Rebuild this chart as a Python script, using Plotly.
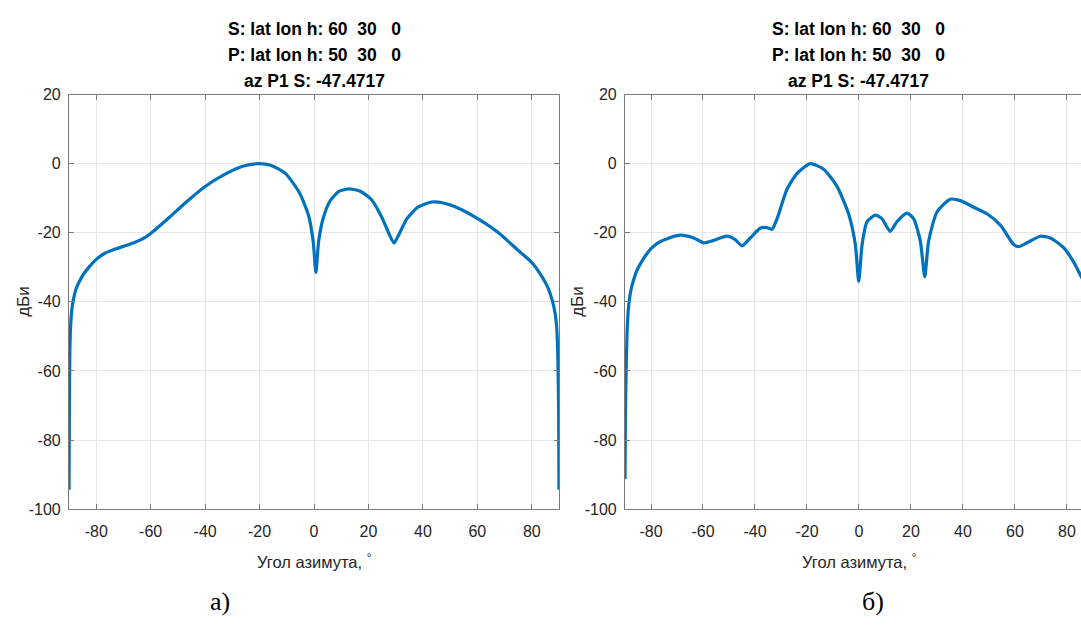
import plotly.graph_objects as go

# ---- data ----
az_a = [-90.0, -89.85, -89.7, -89.4, -89.0, -88.3, -87.3, -86.0, -84.5, -82.5, -80.0, -77.0,
        -73.0, -69.0, -65.0, -62.0, -60.0, -53.8,
        -47.2, -40.0, -32.8, -26.2, -20.3, -15.7, -10.5, -5.3, -2.0, -0.3, 0.7, 1.7, 3.3,
        5.9, 9.1, 13.0, 17.0, 21.0, 24.9, 27.5, 29.4, 30.8, 34.1, 38.0, 43.2, 47.2, 53.7,
        60.3, 68.1, 74.7, 80.0, 83.9, 86.0, 87.5, 88.5, 89.2, 89.6, 89.85, 90.0]
gain_a = [-94.4, -70.0, -55.0, -47.0, -42.5, -39.0, -36.0, -33.8, -31.8, -29.8, -27.7, -26.0,
          -24.7, -23.7, -22.5, -21.3, -20.2, -16.0,
          -11.3, -6.6, -3.1, -0.75, 0.0, -0.5, -2.8, -8.5, -15.0, -22.5, -31.5, -22.5, -16.0,
          -10.8, -8.0, -7.3, -8.0, -10.3, -15.5, -20.2, -23.0, -21.1, -16.0, -12.7, -11.1, -11.3, -13.1,
          -16.0, -20.2, -24.9, -28.6, -32.9, -36.0, -39.5, -43.0, -48.0, -57.0, -70.0, -94.4]

az_b = [-90.0, -89.8, -89.6, -89.2, -88.6, -87.7, -86.7, -85.5, -84.1, -82.0, -80.0, -77.0,
        -73.0, -68.7, -63.6, -59.7, -55.9,
        -50.8, -47.6, -45.0, -41.8, -38.0, -35.4, -33.5, -31.5, -27.7, -23.8, -18.7, -13.6,
        -8.5, -4.0, -1.4, -0.1, 1.2, 3.1, 6.3, 8.8, 12.0, 14.6, 18.5, 21.0, 23.6, 25.3, 26.8,
        30.0, 35.1, 39.0, 44.1, 49.2, 54.4, 59.5, 61.4, 64.6, 69.7, 73.6, 78.7, 82.6, 85.5, 86.5]
gain_b = [-91.3, -70.0, -61.8, -48.7, -41.2, -36.5, -33.7, -31.0, -29.0, -26.5, -24.6, -22.8,
          -21.5, -20.7, -21.5, -22.9, -22.2,
          -21.0, -22.0, -23.8, -21.5, -18.7, -18.5, -19.0, -15.9, -7.4, -2.8, 0.0, -1.6,
          -6.5, -14.5, -23.4, -34.1, -23.4, -16.8, -14.9, -15.9, -19.6, -16.8, -14.3, -15.9, -22.4, -32.7, -22.4,
          -14.0, -10.3, -10.7, -12.6, -14.5, -17.8, -23.4, -24.0, -22.9, -21.0, -21.5, -24.3, -28.5, -32.7, -34.0]

x_ticks = [-80, -60, -40, -20, 0, 20, 40, 60, 80]
y_ticks = [-100, -80, -60, -40, -20, 0, 20]
title_lines = ["S: lat lon h: 60\u00a0\u00a030\u00a0\u00a0\u00a00",
               "P: lat lon h: 50\u00a0\u00a030\u00a0\u00a0\u00a00",
               "az P1 S: -47.4717"]
x_label = "Угол азимута, <sup>°</sup>"
y_label = "дБи"
panel_labels = ["а)", "б)"]

W, H = 1081, 630
BLUE = "#0072BD"
FRAME = "#7a7a7a"
GRID = "#e8e8e8"
TXT = "#262626"
FONT = "Liberation Sans, Arial, sans-serif"

fig = go.Figure()
fig.add_trace(go.Scatter(x=az_a, y=gain_a, mode="lines", line=dict(color=BLUE, width=3.2, shape="spline", smoothing=0.6),
                         xaxis="x", yaxis="y", showlegend=False))
fig.add_trace(go.Scatter(x=az_b, y=gain_b, mode="lines", line=dict(color=BLUE, width=3.2, shape="spline", smoothing=0.6),
                         xaxis="x2", yaxis="y2", showlegend=False))

ydom = [1 - 515 / H, 1 - 89 / H]
xdom1 = [69 / W, 559 / W]
xdom2 = [625 / W, 1.0]

def xaxis(domain, rng, anchor):
    return dict(domain=domain, range=rng, anchor=anchor, tickvals=x_ticks,
                ticktext=[str(v) for v in x_ticks], ticks="inside", ticklen=5, tickcolor=FRAME,
                showline=True, linecolor=FRAME, linewidth=1.2, mirror="ticks",
                showgrid=True, gridcolor=GRID, gridwidth=1.3, zeroline=False,
                tickfont=dict(family=FONT, size=16, color=TXT), ticklabelstandoff=8)

def yaxis(anchor, mirror):
    return dict(domain=ydom, range=[-100, 20], anchor=anchor, tickvals=y_ticks,
                ticktext=[str(v) for v in y_ticks], ticks="inside", ticklen=5, tickcolor=FRAME,
                showline=True, linecolor=FRAME, linewidth=1.2, mirror=mirror,
                showgrid=True, gridcolor=GRID, gridwidth=1.3, zeroline=False,
                tickfont=dict(family=FONT, size=16, color=TXT), ticklabelstandoff=4)

fig.update_layout(
    width=W, height=H, margin=dict(l=0, r=0, t=0, b=0),
    paper_bgcolor="white", plot_bgcolor="white",
    xaxis=xaxis(xdom1, [-90, 90], "y"),
    yaxis=yaxis("x", "ticks"),
    xaxis2=xaxis(xdom2, [-90, 85.4], "y2"),
    yaxis2=yaxis("x2", False),
)

centers = [314 / W, 858.5 / W]
ylab_x = [24 / W, 578 / W]
panel_x = [220 / W, 873 / W]
line_y = [21.5, 48.5, 75]
ann = []
for k in range(2):
    for i, t in enumerate(title_lines):
        ann.append(dict(text="<b>" + t + "</b>", x=centers[k], y=1 - line_y[i] / H, xref="paper", yref="paper",
                        xanchor="center", yanchor="middle", showarrow=False,
                        font=dict(family=FONT, size=17.5, color="#000000")))
    ann.append(dict(text=x_label, x=centers[k], y=1 - 568 / H, xref="paper", yref="paper",
                    xanchor="center", yanchor="middle", showarrow=False,
                    font=dict(family=FONT, size=16.5, color=TXT)))
    ann.append(dict(text=y_label, x=ylab_x[k], y=1 - 302 / H, xref="paper", yref="paper",
                    xanchor="center", yanchor="middle", showarrow=False, textangle=-90,
                    font=dict(family=FONT, size=17, color=TXT)))
    ann.append(dict(text=panel_labels[k], x=panel_x[k], y=1 - 610 / H, xref="paper", yref="paper",
                    xanchor="center", yanchor="middle", showarrow=False,
                    font=dict(family="Liberation Serif, Times New Roman, serif", size=26, color="#000000")))
fig.update_layout(annotations=ann)

fig.write_html("out.html", config={"displayModeBar": False},
               post_script="document.body.style.margin='0';document.body.style.overflow='hidden';")
